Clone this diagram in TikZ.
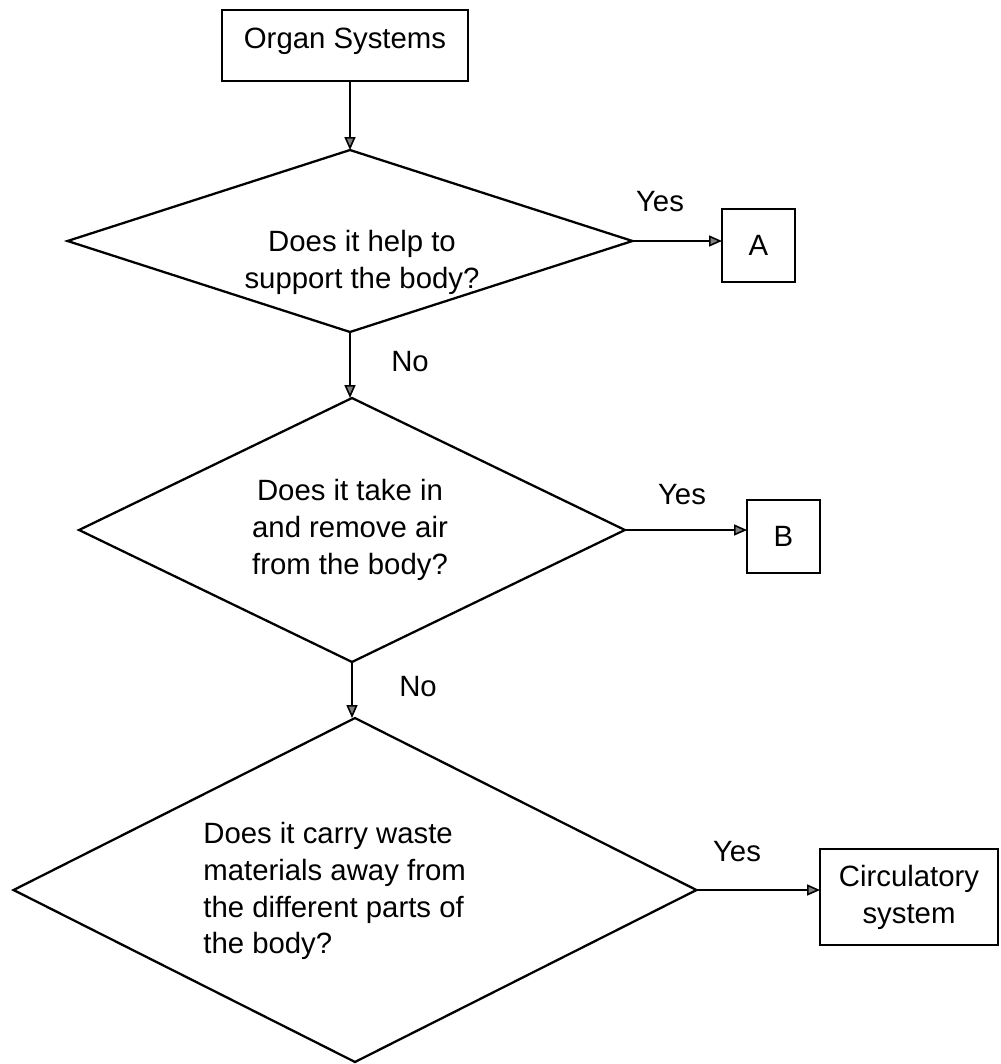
\documentclass[tikz,border=0pt]{standalone}
\usepackage{fontspec}
\setmainfont{Liberation Sans}
\usetikzlibrary{shapes.geometric,arrows.meta}

\begin{document}
\begin{tikzpicture}[x=0.02cm,y=-0.02cm,
  font=\fontsize{16.7}{21}\selectfont,
  box/.style={draw,line width=1.2pt,inner sep=0pt,outer sep=0pt},
  decision/.style={draw,diamond,line width=1.3pt,inner sep=0pt,outer sep=0pt},
  flow/.style={line width=0.9pt,-{Triangle[length=0.26cm,width=0.22cm,fill=gray]}}]
  \useasboundingbox (0,0) rectangle (1000,1064);

  \node[box,minimum width=4.92cm,minimum height=1.42cm,text height=0.42cm,text depth=0.30cm] (org) at (345,45.5) {Organ Systems};

  \node[decision,minimum width=11.3cm,minimum height=3.64cm,aspect=3.1] (q1) at (350,241) {};
  \node[decision,minimum width=10.92cm,minimum height=5.28cm,aspect=2.07] (q2) at (352,530) {};
  \node[decision,minimum width=13.66cm,minimum height=6.88cm,aspect=1.99] (q3) at (355,890) {};

  \node[align=center,inner sep=0pt] (q1text) at (362,262) {Does it help to\\support the body?};
  \node[align=center,inner sep=0pt] (q2text) at (350,530) {Does it take in\\and remove air\\from the body?};
  \node[anchor=west,align=left,inner sep=0pt] (q3text) at (203,891)
  {Does it carry waste\\materials away from\\the different parts of\\the body?};

  \node[box,minimum width=1.46cm,minimum height=1.46cm] (boxA) at (758.5,245.5) {A};
  \node[box,minimum width=1.46cm,minimum height=1.46cm] (boxB) at (783.5,536.5) {B};
  \node[box,minimum width=3.56cm,minimum height=1.92cm,align=center] (circ) at (909,897) {Circulatory\\system};

  \draw[flow] (org.south -| q1.north) -- (q1.north);
  \draw[flow] (q1.south) -- (q1.south |- q2.north);
  \draw[flow] (q2.south) -- (q2.south |- q3.north);
  \draw[flow] (q1.east) -- (q1.east -| boxA.west);
  \draw[flow] (q2.east) -- (q2.east -| boxB.west);
  \draw[flow] (q3.east) -- (q3.east -| circ.west);

  \node (yes1) at (660,202) {Yes};
  \node (yes2) at (682,495) {Yes};
  \node (yes3) at (737,852) {Yes};
  \node (no1) at (410,362) {No};
  \node (no2) at (418,687) {No};

\end{tikzpicture}
\end{document}
